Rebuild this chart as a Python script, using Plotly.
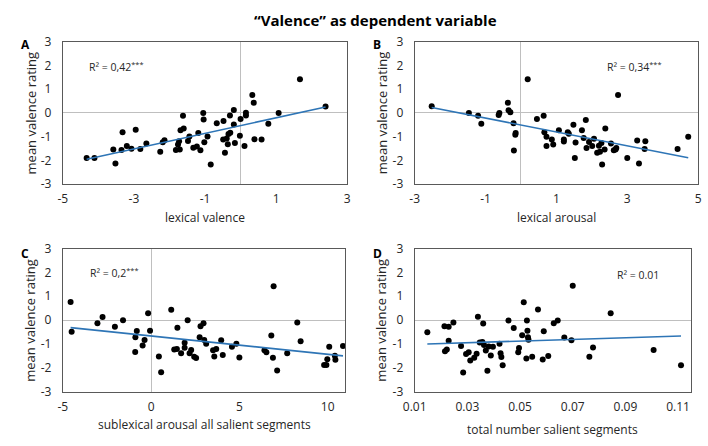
import numpy as np
import plotly.graph_objects as go

# ---------------- data ----------------
a_x = [-4.33, -4.11, -3.58, -3.52, -3.35, -3.32, -3.20, -3.07, -2.95, -2.82, -2.65, -2.26, -2.19, -2.14,
       -1.82, -1.76, -1.73, -1.71, -1.69, -1.62, -1.60, -1.48, -1.44, -1.33, -1.23, -1.19, -1.13, -1.05,
       -1.04, -1.02, -0.93, -0.84, -0.67, -0.48, -0.49, -0.44, -0.39, -0.36, -0.34, -0.30, -0.29, -0.19,
       -0.19, -0.16, -0.02, 0.00, 0.11, 0.15, 0.15, 0.33, 0.37, 0.39, 0.59, 0.78, 1.07, 1.67, 2.39]
a_y = [-1.90, -1.90, -1.54, -2.13, -1.56, -0.82, -1.40, -1.51, -0.71, -1.52, -1.29, -1.64, -1.24, -1.15,
       -1.56, -1.33, -1.20, -1.54, -0.73, -0.12, -0.66, -1.19, -1.00, -1.47, -1.42, -0.85, -1.58, 0.00,
       -0.28, -1.24, -1.00, -2.18, -0.44, -0.34, -1.12, -1.68, -1.08, -1.32, -0.89, -0.11, -0.84, 0.12,
       -0.49, -1.27, -0.96, -0.26, -1.40, 0.01, -0.11, 0.75, 0.43, -1.11, -1.12, -0.46, 0.00, 1.42, 0.27]

b_x = [-2.52, -1.47, -1.21, -1.12, -0.63, -0.61, -0.37, -0.35, -0.30, -0.21, -0.20, -0.16, -0.15, 0.19,
       0.45, 0.64, 0.66, 0.72, 0.72, 0.87, 0.91, 1.07, 1.21, 1.21, 1.32, 1.35, 1.48, 1.52, 1.54, 1.72,
       1.77, 1.83, 1.85, 1.92, 2.01, 2.06, 2.15, 2.20, 2.23, 2.27, 2.29, 2.36, 2.38, 2.54, 2.62, 2.67,
       2.69, 2.74, 3.00, 3.28, 3.33, 3.49, 3.51, 4.42, 4.72]
b_y = [0.28, 0.00, -0.12, -0.46, -0.09, 0.00, 0.43, 0.11, 0.03, -0.44, -1.59, -0.92, -0.85, 1.42,
       -0.26, -0.12, -0.82, -1.01, -1.40, -1.12, -1.33, -0.73, -1.12, -1.21, -0.82, -0.88, -0.50, -1.90,
       -1.25, -0.73, -1.06, -0.30, -1.48, -1.23, -1.40, -1.09, -1.68, -1.39, -1.64, -1.27, -2.18, -1.54,
       -0.66, -1.29, -1.58, -1.54, -1.48, 0.75, -1.90, -1.16, -2.13, -1.52, -1.20, -1.52, -1.01]

c_x = [-4.56, -4.50, -3.04, -2.75, -2.05, -1.59, -0.90, -0.89, -0.81, -0.48, -0.37, -0.17, -0.06, 0.44,
       0.57, 1.14, 1.31, 1.46, 1.49, 1.70, 1.90, 1.90, 2.07, 2.18, 2.27, 2.44, 2.55, 2.75, 2.80, 2.97,
       3.01, 3.12, 3.51, 3.58, 3.69, 3.97, 4.06, 4.58, 4.83, 5.00, 6.42, 6.53, 6.81, 6.90, 6.94, 7.14,
       7.71, 8.28, 8.47, 9.80, 9.93, 9.98, 10.09, 10.41, 10.44, 10.87]
c_y = [0.76, -0.49, -0.13, 0.13, -0.28, 0.00, -1.33, -0.72, -0.45, -1.06, -0.83, 0.29, -0.44, -1.52,
       -2.18, 0.44, -1.23, -1.21, -0.32, -1.39, -0.95, -1.15, 0.00, -1.39, -1.25, -1.53, -1.58, -0.71,
       -0.25, -0.13, -0.83, -0.99, -1.26, -1.52, -1.21, -0.84, -1.46, -1.11, -0.99, -1.56, -1.26, -1.34,
       -0.64, -1.57, 1.42, -2.11, -1.39, -0.10, -0.88, -1.88, -1.88, -1.64, -1.11, -1.49, -1.66, -1.08]

d_x = [0.0148, 0.0213, 0.0215, 0.0222, 0.0229, 0.0229, 0.0247, 0.0276, 0.0284, 0.0295, 0.0305, 0.0311,
       0.0326, 0.0335, 0.0340, 0.0347, 0.0357, 0.0360, 0.0363, 0.0370, 0.0376, 0.0381, 0.0389, 0.0397,
       0.0422, 0.0426, 0.0429, 0.0434, 0.0456, 0.0476, 0.0493, 0.0496, 0.0508, 0.0514, 0.0524, 0.0526,
       0.0528, 0.0530, 0.0532, 0.0546, 0.0568, 0.0586, 0.0590, 0.0607, 0.0628, 0.0643, 0.0668, 0.0695,
       0.0700, 0.0763, 0.0777, 0.0844, 0.1007, 0.1111]
d_y = [-0.51, -0.25, -1.30, -1.23, -0.28, -0.86, -0.10, -1.08, -2.19, -1.42, -1.34, -1.69,
       -1.57, -1.41, 0.14, -0.94, -0.91, -0.14, -1.04, -1.27, -2.12, -1.10, -1.48, -1.11,
       -0.99, -1.39, -1.54, -1.89, -0.01, -0.33, -1.34, -1.17, -0.63, 0.75, -1.60, -0.01,
       -0.44, -0.71, -0.82, -1.53, 0.45, -1.65, -0.46, -1.50, -0.13, -0.01, -0.73, -0.84,
       1.44, -1.53, -1.14, 0.29, -1.25, -1.89]

r2_labels = ["R² = 0,42<sup>***</sup>", "R² = 0,34<sup>***</sup>", "R² = 0,2<sup>***</sup>", "R² = 0.01"]
x_titles = ["lexical valence", "lexical arousal", "sublexical arousal all salient segments",
            "total number salient segments"]
y_title = "mean valence rating"
panel_letters = ["A", "B", "C", "D"]
title = "“Valence” as dependent variable"

x_ranges = [[-5, 3], [-3, 5], [-5, 11], [0.01, 0.115]]
x_ticks = [[-5, -3, -1, 1, 3], [-3, -1, 1, 3, 5], [-5, 0, 5, 10], [0.01, 0.03, 0.05, 0.07, 0.09, 0.11]]
y_ticks = [-3, -2, -1, 0, 1, 2, 3]

# ---------------- layout ----------------
W, H = 708, 446
FONT = "Open Sans"
# plot areas in pixels: (left, right, top, bottom)
boxes = [(52, 343, 34, 182), (412, 702, 34, 182), (52, 341, 249, 398), (412, 695, 249, 398)]
xtitle_y = [217, 217, 432, 437]
r2_pos = [(106, 60), (636, 60), (104, 274), (640, 277)]
letter_pos = [(7, 37), (367, 37), (7, 254), (367, 254)]
ytitle_x = [19, 378, 19, 378]

def fmt(v):
    return ("%g" % v)

fig = go.Figure()
data = [(a_x, a_y), (b_x, b_y), (c_x, c_y), (d_x, d_y)]
annotations = []
for i, ((xs, ys), box) in enumerate(zip(data, boxes)):
    n = "" if i == 0 else str(i + 1)
    xa, ya = "x" + n, "y" + n
    l, r, t, b = box
    xs_a = np.array(xs); ys_a = np.array(ys)
    k, c0 = np.polyfit(xs_a, ys_a, 1)
    lx = np.array([xs_a.min(), xs_a.max()])
    fig.add_trace(go.Scatter(x=xs, y=ys, mode="markers", xaxis=xa, yaxis=ya,
                             marker=dict(color="black", size=6), showlegend=False, hoverinfo="skip"))
    fig.add_trace(go.Scatter(x=lx, y=k * lx + c0, mode="lines", xaxis=xa, yaxis=ya,
                             line=dict(color="#2E75B6", width=1.6), showlegend=False, hoverinfo="skip"))
    xtv = x_ticks[i]
    fig.layout["xaxis" + n] = dict(
        domain=[l / W, r / W], anchor=ya, range=x_ranges[i], tickvals=xtv,
        ticktext=[("%.2f" % v) if i == 3 else fmt(v) for v in xtv],
        showgrid=False, zeroline=(i != 3), zerolinecolor="#BFBFBF", zerolinewidth=1,
        showline=True, mirror=True, linecolor="#595959", linewidth=1, ticks="",
        ticklabelstandoff=4, tickfont=dict(family=FONT, size=12, color="#262626"), fixedrange=True)
    fig.layout["yaxis" + n] = dict(
        domain=[1 - b / H, 1 - t / H], anchor=xa, range=[-3, 3], tickvals=y_ticks,
        ticktext=[fmt(v) for v in y_ticks],
        showgrid=False, zeroline=True, zerolinecolor="#BFBFBF", zerolinewidth=1,
        showline=True, mirror=True, linecolor="#595959", linewidth=1, ticks="",
        ticklabelstandoff=8, tickfont=dict(family=FONT, size=12, color="#262626"), fixedrange=True)
    annotations.append(dict(xref="paper", yref="paper", x=(l + r) / 2 / W, y=1 - xtitle_y[i] / H,
                            text=x_titles[i], showarrow=False, xanchor="center", yanchor="middle",
                            font=dict(family=FONT, size=12, color="#262626")))
    annotations.append(dict(xref="paper", yref="paper", x=ytitle_x[i] / W, y=1 - (t + b) / 2 / H,
                            text=y_title, showarrow=False, textangle=-90, xanchor="center", yanchor="middle",
                            font=dict(family=FONT, size=13, color="#262626")))
    annotations.append(dict(xref="paper", yref="paper", x=r2_pos[i][0] / W, y=1 - r2_pos[i][1] / H,
                            text=r2_labels[i], showarrow=False, xanchor="center", yanchor="middle",
                            font=dict(family=FONT, size=10.5, color="#262626")))
    annotations.append(dict(xref="paper", yref="paper", x=letter_pos[i][0] / W, y=1 - letter_pos[i][1] / H,
                            text="<b>" + panel_letters[i] + "</b>", showarrow=False, xanchor="left",
                            yanchor="middle", font=dict(family=FONT, size=12, color="black")))

annotations.append(dict(xref="paper", yref="paper", x=372 / W, y=1 - 11 / H, text="<b>" + title + "</b>",
                        showarrow=False, xanchor="center", yanchor="middle",
                        font=dict(family=FONT, size=15, color="black")))

fig.update_layout(width=W, height=H, margin=dict(l=0, r=0, t=0, b=0), paper_bgcolor="white",
                  plot_bgcolor="white", annotations=annotations, showlegend=False)
fig.write_html("out.html", config={"displayModeBar": False},
               post_script="document.body.style.margin='0';document.body.style.overflow='hidden';")
